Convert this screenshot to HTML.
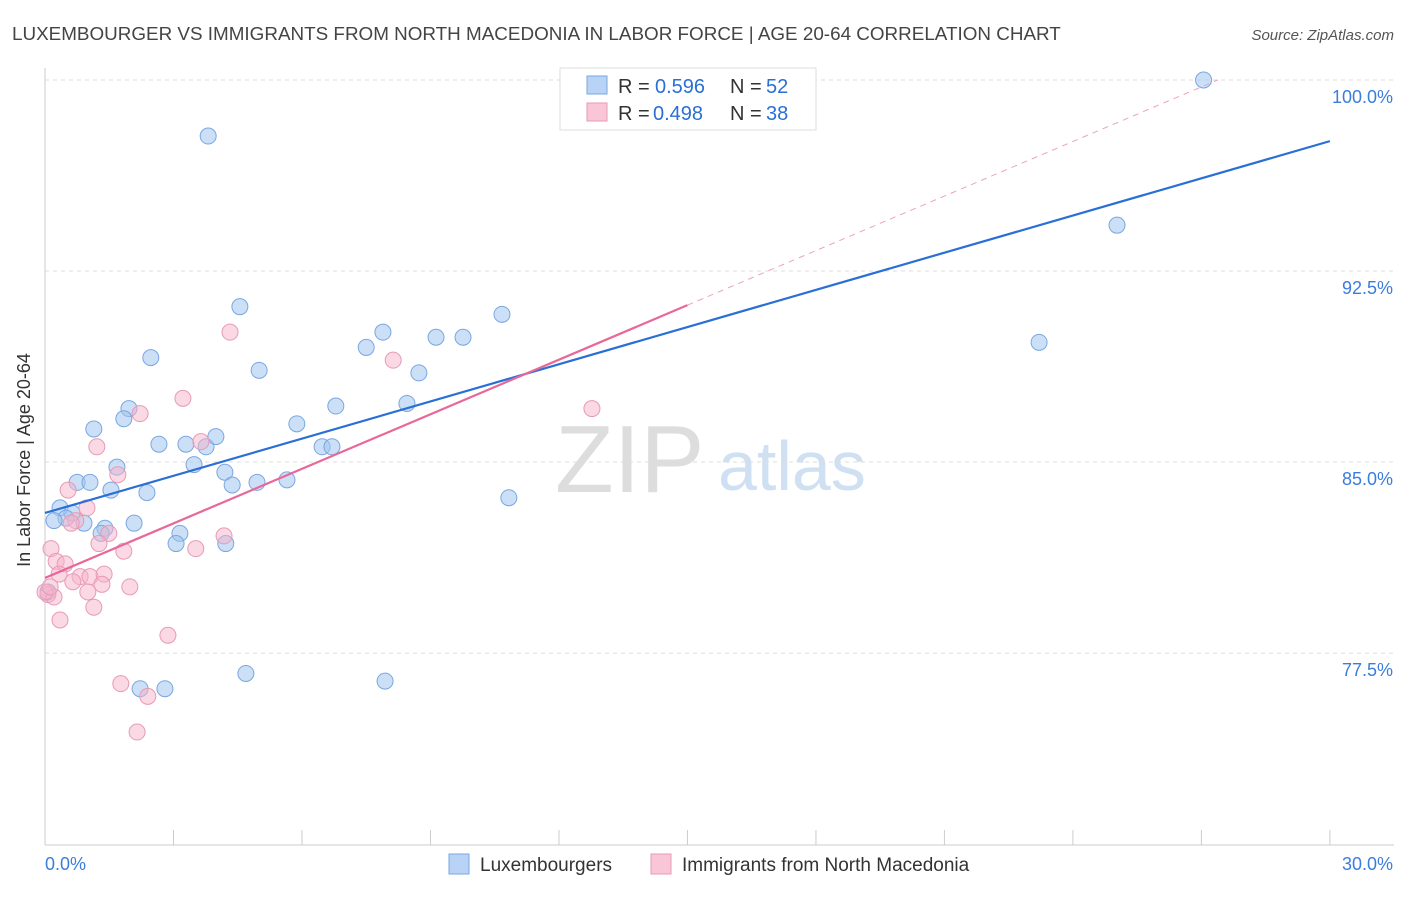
<!DOCTYPE html>
<html><head><meta charset="utf-8"><style>
body{margin:0;background:#fff;font-family:"Liberation Sans",sans-serif;}
svg text{font-family:"Liberation Sans",sans-serif;}
</style></head><body>
<svg id="c" width="1406" height="892">
<text x="12" y="40" font-size="18.85" fill="#444">LUXEMBOURGER VS IMMIGRANTS FROM NORTH MACEDONIA IN LABOR FORCE | AGE 20-64 CORRELATION CHART</text>
<text x="1394" y="40" font-size="15" fill="#555" text-anchor="end" font-style="italic">Source: ZipAtlas.com</text>
<text x="30" y="460" font-size="18" fill="#333" text-anchor="middle" transform="rotate(-90 30 460)">In Labor Force | Age 20-64</text>
<text x="555" y="492" font-size="96" fill="#ddd" font-family="Liberation Serif">ZIP</text>
<text x="718" y="490" font-size="70" fill="#cfe0f3">atlas</text>
<g id="grid"></g><g id="pts"></g><g id="lines"></g>
<g>
<rect x="560" y="68" width="256" height="62" fill="#fff" stroke="#ddd"/>
<rect x="587" y="76" width="20" height="18" fill="#b8d3f5" stroke="#7aa7e0"/>
<rect x="587" y="103" width="20" height="18" fill="#f8c6d6" stroke="#e89ab4"/>
<text x="618" y="93" font-size="20" fill="#333">R =</text>
<text x="655" y="93" font-size="20" fill="#2a6fd6">0.596</text>
<text x="730" y="93" font-size="20" fill="#333">N =</text>
<text x="766" y="93" font-size="20" fill="#2a6fd6">52</text>
<text x="618" y="120" font-size="20" fill="#333">R =</text>
<text x="653" y="120" font-size="20" fill="#2a6fd6">0.498</text>
<text x="730" y="120" font-size="20" fill="#333">N =</text>
<text x="766" y="120" font-size="20" fill="#2a6fd6">38</text>
</g>
<g>
<rect x="449" y="854" width="20" height="20" fill="#b8d3f5" stroke="#7aa7e0"/>
<text x="480" y="871" font-size="19" fill="#333">Luxembourgers</text>
<rect x="651" y="854" width="20" height="20" fill="#f8c6d6" stroke="#e89ab4"/>
<text x="682" y="871" font-size="19" fill="#333">Immigrants from North Macedonia</text>
</g>
</svg>
<script>
const xTicks=[0,3,6,9,12,15,18,21,24,27,30];
const yTicks=[77.5,85.0,92.5,100.0];
const blueX=[27.05,3.81,25.03,4.55,10.67,7.89,9.13,9.76,7.50,23.21,2.47,5.00,8.73,8.45,6.79,1.96,1.84,1.14,5.88,2.66,3.29,3.76,3.99,6.47,6.70,3.48,1.68,4.20,0.75,1.05,4.95,5.65,4.37,1.54,2.38,10.83,0.35,0.63,0.49,0.91,0.21,2.08,1.40,3.15,1.31,3.06,4.22,0.07,2.22,2.80,4.69,7.94];
const blueY=[100.0,97.8,94.3,91.1,90.8,90.1,89.9,89.9,89.5,89.7,89.1,88.6,88.5,87.3,87.2,87.1,86.7,86.3,86.5,85.7,85.7,85.6,86.0,85.6,85.6,84.9,84.8,84.6,84.2,84.2,84.2,84.3,84.1,83.9,83.8,83.6,83.2,83.0,82.8,82.6,82.7,82.6,82.4,82.2,82.2,81.8,81.8,79.9,76.1,76.1,76.7,76.4];
const pinkX=[4.32,8.13,3.22,2.22,12.77,1.21,3.64,1.70,0.54,0.98,0.72,0.61,1.49,4.18,1.26,1.84,3.52,0.14,0.26,0.47,0.33,0.82,1.05,1.38,0.65,1.33,1.98,1.00,0.07,0.21,1.14,0.35,2.87,1.77,2.40,2.15,0.0,0.12];
const pinkY=[90.1,89.0,87.5,86.9,87.1,85.6,85.8,84.5,83.9,83.2,82.7,82.6,82.2,82.1,81.8,81.5,81.6,81.6,81.1,81.0,80.6,80.5,80.5,80.6,80.3,80.2,80.1,79.9,79.8,79.7,79.3,78.8,78.2,76.3,75.8,74.4,79.9,80.1];
const blueLine=[83.0,97.6];   // y at x=0 and x=30
const pinkLine=[80.45,0.714]; // intercept, slope
const X=v=>45+v*42.83, Y=v=>80+(100-v)*25.47;
const NS='http://www.w3.org/2000/svg';
function mk(t,a,p){const e=document.createElementNS(NS,t);for(const k in a)e.setAttribute(k,a[k]);p.appendChild(e);return e;}
const g=document.getElementById('grid');
let ax=mk('line',{x1:45,y1:845,x2:1394,y2:845,stroke:'#ccc'},g);


let ay=mk('line',{x1:45,y1:68,x2:45,y2:845,stroke:'#ccc'},g);


xTicks.forEach(t=>{const l=mk('line',{x1:X(t),y1:830,x2:X(t),y2:845,stroke:'#ccc'},g);

});
yTicks.forEach(t=>{const l=mk('line',{x1:45,y1:Y(t),x2:1394,y2:Y(t),stroke:'#ddd','stroke-dasharray':'4 4'},g);


const tx=mk('text',{x:1393,y:Y(t)+23,'font-size':18,fill:'#3b7ddd','text-anchor':'end'},g);tx.textContent=t.toFixed(1)+'%';

});
const t0=mk('text',{x:45,y:870,'font-size':18,fill:'#3b7ddd'},g);t0.textContent='0.0%';


const t1=mk('text',{x:1393,y:870,'font-size':18,fill:'#3b7ddd','text-anchor':'end'},g);t1.textContent='30.0%';


const p=document.getElementById('pts');
blueX.forEach((x,i)=>{const c=mk('circle',{cx:X(x),cy:Y(blueY[i]),r:8,fill:'rgba(160,196,240,0.55)',stroke:'#7aa7e0','stroke-width':1},p);

});
pinkX.forEach((x,i)=>{const c=mk('circle',{cx:X(x),cy:Y(pinkY[i]),r:8,fill:'rgba(246,180,202,0.5)',stroke:'#e89ab4','stroke-width':1},p);

});
const L=document.getElementById('lines');
const bl=mk('line',{x1:X(0),y1:Y(blueLine[0]),x2:X(30),y2:Y(blueLine[1]),stroke:'#2a6fd6','stroke-width':2.2},L);


const pl=mk('line',{x1:X(0),y1:Y(pinkLine[0]),x2:X(15),y2:Y(pinkLine[0]+15*pinkLine[1]),stroke:'#e8689a','stroke-width':2.2},L);


const xe=(100-pinkLine[0])/pinkLine[1];
const pd=mk('line',{x1:X(15),y1:Y(pinkLine[0]+15*pinkLine[1]),x2:X(xe),y2:Y(100),stroke:'#eba3bd','stroke-width':1,'stroke-dasharray':'6 5'},L);


</script>
</body></html>
